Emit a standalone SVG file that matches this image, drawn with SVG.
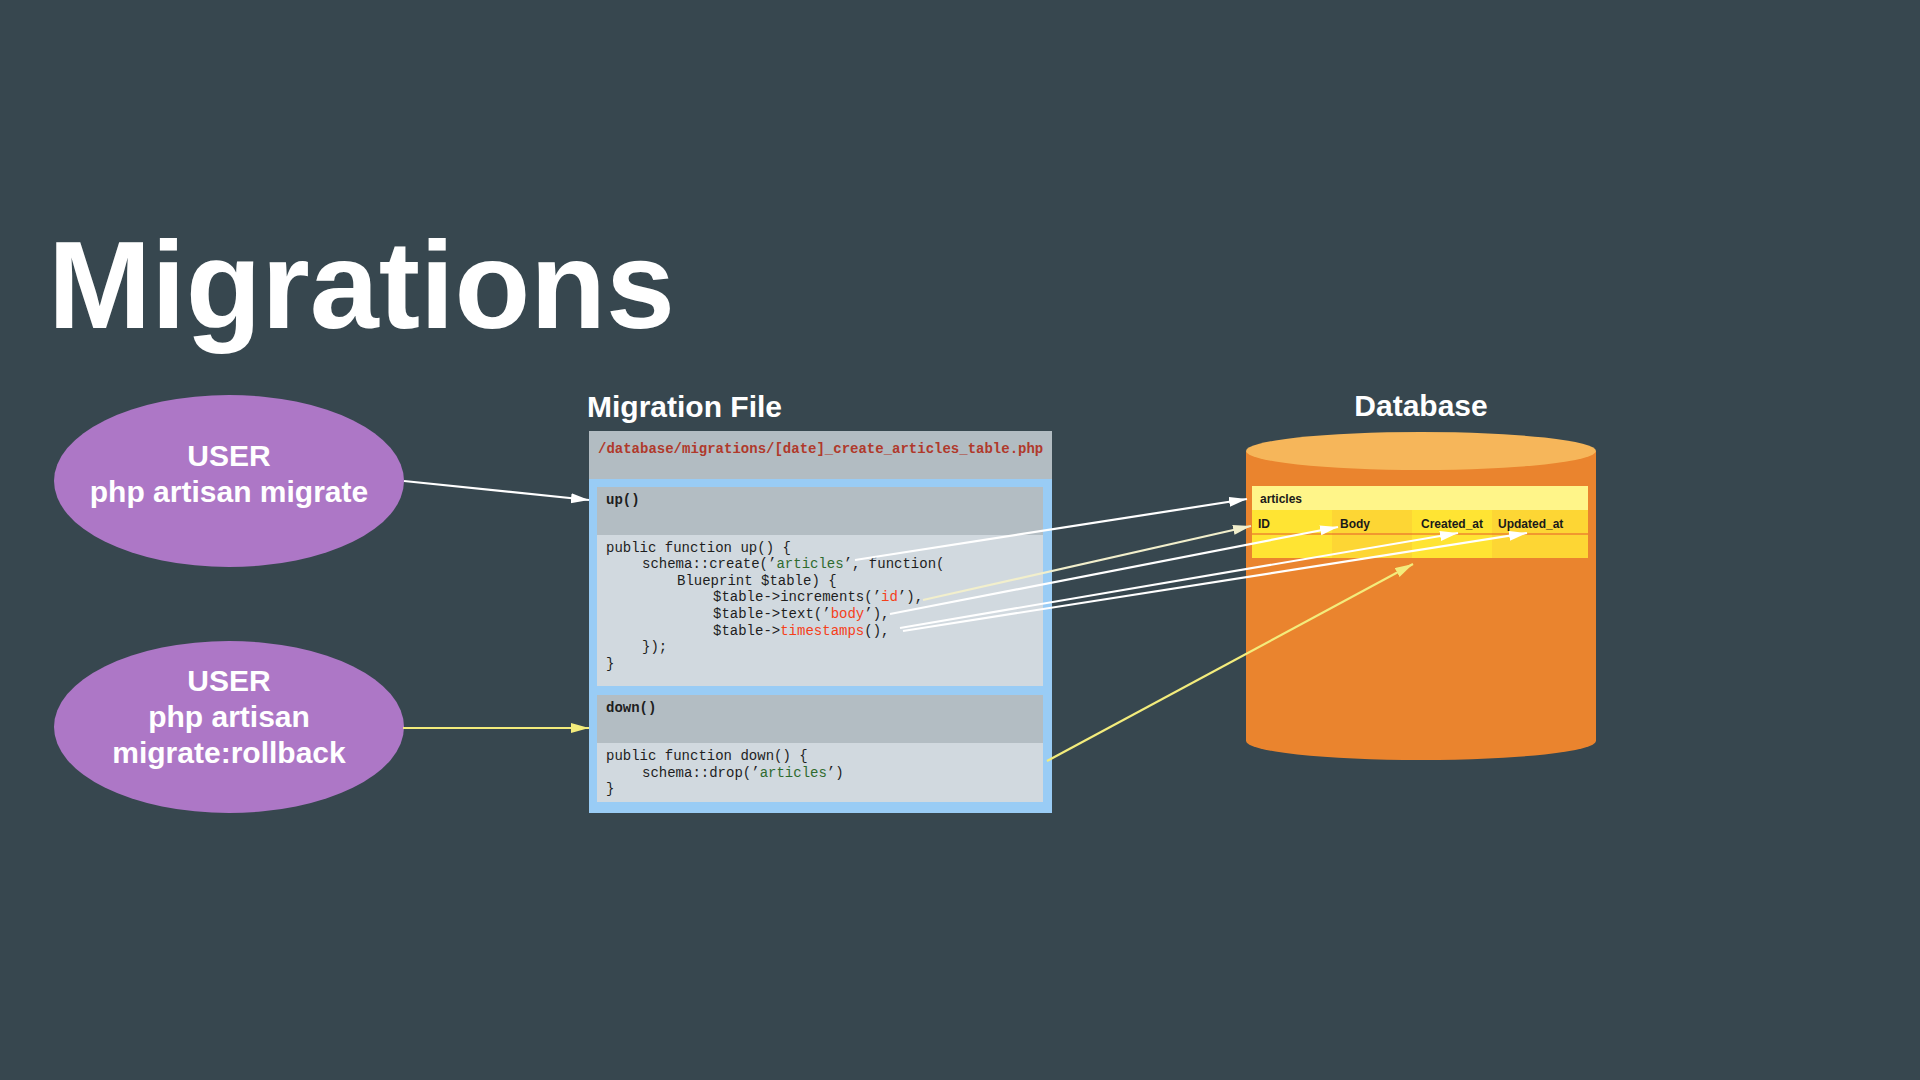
<svg xmlns="http://www.w3.org/2000/svg" width="1920" height="1080" viewBox="0 0 1920 1080">
<defs>
<style>
.title{font-family:"Liberation Sans",Arial,sans-serif;font-weight:bold;fill:#ffffff}
.ell{fill:#ad77c6}
.etxt{font-family:"Liberation Sans",Arial,sans-serif;font-weight:bold;font-size:30px;fill:#ffffff;text-anchor:middle}
.code{font-family:"Liberation Mono","Courier New",monospace;font-size:14px;fill:#1e1e1e}
.codeb{font-family:"Liberation Mono","Courier New",monospace;font-size:14px;font-weight:bold;fill:#1e1e1e}
.grn{fill:#2f6b2f}
.red{fill:#f5401a}
.hdr{fill:#b3bdc3}
.body{fill:#d1d9df}
.tbl{font-family:"Liberation Sans",Arial,sans-serif;font-weight:bold;font-size:12px;fill:#1a1a1a}
.cw{stroke:#ffffff;stroke-width:2.2;fill:none;marker-end:url(#aw)}
.cc{stroke:#f2efcc;stroke-width:2.2;fill:none;marker-end:url(#ac)}
.cy{stroke:#f3ec7c;stroke-width:2.2;fill:none;marker-end:url(#ay)}
</style>
<marker id="aw" markerUnits="userSpaceOnUse" markerWidth="20" markerHeight="12" refX="18" refY="5" orient="auto"><path d="M0,0 L18,5 L0,10 Z" fill="#ffffff"/></marker>
<marker id="ac" markerUnits="userSpaceOnUse" markerWidth="20" markerHeight="12" refX="18" refY="5" orient="auto"><path d="M0,0 L18,5 L0,10 Z" fill="#f2efcc"/></marker>
<marker id="ay" markerUnits="userSpaceOnUse" markerWidth="20" markerHeight="12" refX="18" refY="5" orient="auto"><path d="M0,0 L18,5 L0,10 Z" fill="#f3ec7c"/></marker>
</defs>
<rect x="0" y="0" width="1920" height="1080" fill="#37474f"/>
<text class="title" x="48" y="328" font-size="124">Migrations</text>
<text class="title" x="587" y="417" font-size="30">Migration File</text>
<text class="title" x="1421" y="416" font-size="30" text-anchor="middle">Database</text>

<g id="user-migrate">
<ellipse class="ell" cx="229" cy="481" rx="175" ry="86"/>
<text class="etxt" x="229" y="466">USER</text>
<text class="etxt" x="229" y="502">php artisan migrate</text>
</g>

<g id="user-rollback">
<ellipse class="ell" cx="229" cy="727" rx="175" ry="86"/>
<text class="etxt" x="229" y="691">USER</text>
<text class="etxt" x="229" y="727">php artisan</text>
<text class="etxt" x="229" y="763">migrate:rollback</text>
</g>

<g id="migration-file">
<rect x="589" y="431" width="463" height="382" fill="#99ccf5"/>
<rect x="589" y="431" width="463" height="48" fill="#b2bcc2"/>
<text class="codeb" x="598" y="453" fill="#b0392b" style="fill:#b0392b">/database/migrations/[date]_create_articles_table.php</text>
</g>

<g id="up-method">
<rect class="hdr" x="597" y="487" width="446" height="48"/>
<rect class="body" x="597" y="535" width="446" height="151"/>
<text class="codeb" x="606" y="504">up()</text>
<text class="code" x="606" y="552">public function up() {</text>
<text class="code" x="642" y="568">schema::create(’<tspan class="grn">articles</tspan>’, function(</text>
<text class="code" x="677" y="585">Blueprint $table) {</text>
<text class="code" x="713" y="601">$table-&gt;increments(’<tspan class="red">id</tspan>’),</text>
<text class="code" x="713" y="618">$table-&gt;text(’<tspan class="red">body</tspan>’),</text>
<text class="code" x="713" y="635">$table-&gt;<tspan class="red">timestamps</tspan>(),</text>
<text class="code" x="642" y="651">});</text>
<text class="code" x="606" y="668">}</text>
</g>

<g id="down-method">
<rect class="hdr" x="597" y="695" width="446" height="48"/>
<rect class="body" x="597" y="743" width="446" height="59"/>
<text class="codeb" x="606" y="712">down()</text>
<text class="code" x="606" y="760">public function down() {</text>
<text class="code" x="642" y="777">schema::drop(’<tspan class="grn">articles</tspan>’)</text>
<text class="code" x="606" y="793">}</text>
</g>

<g id="database">
<path d="M1246,451 L1246,741 A175,19 0 0 0 1596,741 L1596,451 Z" fill="#ea842e"/>
<ellipse cx="1421" cy="451" rx="175" ry="19" fill="#f6b65a"/>
</g>

<g id="articles-table">
<rect x="1252" y="486" width="336" height="24" fill="#fff589"/>
<rect x="1252" y="510" width="80" height="48" fill="#ffe433"/>
<rect x="1332" y="510" width="80" height="48" fill="#fdd634"/>
<rect x="1412" y="510" width="80" height="48" fill="#ffe433"/>
<rect x="1492" y="510" width="96" height="48" fill="#fdd634"/>
<line x1="1252" y1="534" x2="1588" y2="534" stroke="#e55a2b" stroke-width="1"/>
<text class="tbl" x="1260" y="503">articles</text>
<text class="tbl" x="1258" y="528">ID</text>
<text class="tbl" x="1340" y="528">Body</text>
<text class="tbl" x="1421" y="528">Created_at</text>
<text class="tbl" x="1498" y="528">Updated_at</text>
</g>

<g id="connectors">
<line class="cw" x1="404" y1="481" x2="589" y2="500"/>
<line class="cy" x1="403" y1="728" x2="589" y2="728"/>
<line class="cw" x1="855" y1="560" x2="1247" y2="499"/>
<line class="cc" x1="923" y1="600" x2="1251" y2="526"/>
<line class="cw" x1="890" y1="614" x2="1338" y2="527"/>
<line class="cw" x1="900" y1="628" x2="1458" y2="533"/>
<line class="cw" x1="903" y1="631" x2="1527" y2="533"/>
<line class="cy" x1="1047" y1="761" x2="1413" y2="564"/>
</g>
</svg>
